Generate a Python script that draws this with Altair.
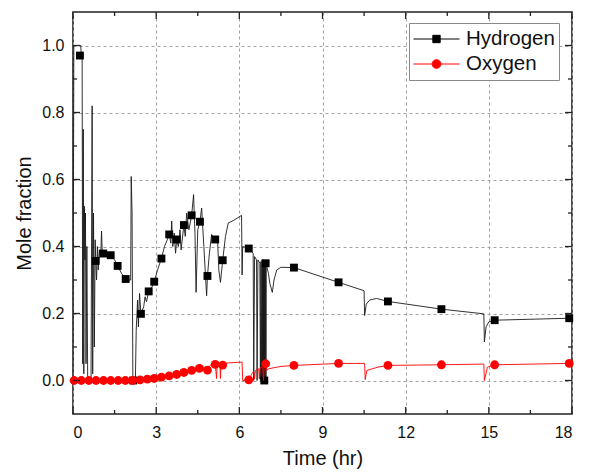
import altair as alt
import pandas as pd

# ---------------- data ----------------
h_time = [0.00, 0.03, 0.10, 0.20, 0.28, 0.30, 0.33, 0.35, 0.37, 0.39, 0.41, 0.43, 0.45, 0.47,
          0.50, 0.53, 0.58, 0.65, 0.69, 0.71, 0.74, 0.77, 0.80, 0.82, 0.85, 0.88, 0.91, 0.95,
          1.00, 1.03, 1.06, 1.09, 1.20, 1.36, 1.50, 1.61, 1.75, 1.90, 2.00, 2.08, 2.10, 2.13,
          2.16, 2.20, 2.25, 2.28, 2.33, 2.36, 2.40, 2.45, 2.55, 2.60, 2.65, 2.73, 2.80, 2.93,
          3.05, 3.19, 3.30, 3.40, 3.47, 3.53, 3.56, 3.60, 3.65, 3.70, 3.74, 3.80, 3.86, 3.90,
          4.00, 4.05, 4.10, 4.18, 4.28, 4.35, 4.40, 4.44, 4.50, 4.58, 4.64, 4.72, 4.82, 4.85,
          4.92, 5.00, 5.13, 5.21, 5.26, 5.32, 5.40, 5.50, 5.60, 5.80, 6.08, 6.10, 6.12, 6.34,
          6.50, 6.52, 6.55, 6.62, 6.64, 6.67, 6.74, 6.76, 6.78, 6.80, 6.82, 6.83, 6.84, 6.85,
          6.86, 6.87, 6.88, 6.89, 6.90, 6.91, 6.92, 6.93, 6.94, 6.95, 6.96, 6.97, 6.99, 7.05,
          7.10, 7.19, 7.25, 7.35, 7.50, 7.97, 9.58, 10.50, 10.52, 10.58, 10.70, 10.95, 11.36,
          13.29, 14.82, 14.84, 14.90, 15.00, 15.21, 17.95]
h_value = [0.00, 1.00, 1.00, 1.00, 1.00, 0.97, 0.97, 0.05, 0.75, 0.02, 0.52, 0.36, 0.50, 0.05,
           0.40, 0.00, 0.00, 0.00, 0.82, 0.02, 0.50, 0.10, 0.42, 0.357, 0.30, 0.40, 0.33, 0.39,
           0.37, 0.446, 0.37, 0.379, 0.376, 0.374, 0.36, 0.342, 0.32, 0.303, 0.30, 0.30, 0.609, 0.50,
           0.00, 0.00, 0.00, 0.15, 0.24, 0.16, 0.26, 0.199, 0.22, 0.25, 0.235, 0.266, 0.27, 0.295,
           0.33, 0.364, 0.40, 0.42, 0.436, 0.41, 0.476, 0.40, 0.44, 0.38, 0.421, 0.40, 0.45, 0.39,
           0.464, 0.43, 0.50, 0.45, 0.493, 0.555, 0.44, 0.263, 0.45, 0.474, 0.515, 0.40, 0.253, 0.312,
           0.38, 0.436, 0.42, 0.43, 0.33, 0.293, 0.359, 0.43, 0.47, 0.478, 0.493, 0.315, 0.40, 0.394,
           0.38, 0.00, 0.37, 0.36, 0.00, 0.36, 0.35, 0.00, 0.355, 0.00, 0.36, 0.00, 0.36, 0.00,
           0.36, 0.00, 0.355, 0.00, 0.35, 0.00, 0.35, 0.00, 0.35, 0.352, 0.00, 0.34, 0.34, 0.32,
           0.29, 0.263, 0.30, 0.33, 0.338, 0.337, 0.293, 0.268, 0.194, 0.228, 0.240, 0.245, 0.236,
           0.213, 0.199, 0.115, 0.16, 0.175, 0.180, 0.186]

h_mark_time = [0.25, 0.82, 1.09, 1.36, 1.61, 1.90, 2.17, 2.45, 2.73, 2.93, 3.19, 3.47, 3.74,
               4.00, 4.28, 4.58, 4.85, 5.13, 5.40, 6.34, 6.90, 6.95, 7.97, 9.58, 11.36, 13.29,
               15.21, 17.90]
h_mark_value = [0.97, 0.357, 0.379, 0.374, 0.342, 0.303, 0.0, 0.199, 0.266, 0.295, 0.364, 0.436,
                0.421, 0.464, 0.493, 0.474, 0.312, 0.421, 0.359, 0.394, 0.0, 0.350, 0.337, 0.293,
                0.236, 0.213, 0.180, 0.186]

o_time = [0.00, 2.20, 2.45, 2.73, 2.93, 3.19, 3.47, 3.74, 4.00, 4.28, 4.58, 4.70, 4.85, 4.95,
          5.05, 5.13, 5.18, 5.20, 5.30, 5.32, 5.34, 5.40, 5.50, 6.10, 6.12, 6.34, 6.45, 6.52,
          6.55, 6.58, 6.70, 6.72, 6.75, 6.85, 6.87, 6.90, 6.95, 7.00, 7.05, 7.50, 7.97, 9.58,
          10.52, 10.54, 10.60, 11.00, 11.36, 13.29, 14.82, 14.84, 14.95, 15.21, 17.95]
o_value = [0.00, 0.00, 0.002, 0.004, 0.006, 0.010, 0.014, 0.018, 0.024, 0.030, 0.036, 0.040,
           0.031, 0.045, 0.050, 0.048, 0.006, 0.048, 0.046, 0.006, 0.046, 0.046, 0.052, 0.055,
           0.00, 0.002, 0.020, 0.028, 0.005, 0.030, 0.035, 0.005, 0.038, 0.040, 0.00, 0.045,
           0.050, 0.030, 0.035, 0.042, 0.045, 0.051, 0.051, 0.003, 0.030, 0.040, 0.045, 0.047,
           0.049, 0.00, 0.040, 0.047, 0.051]

o_mark_time = [0.04, 0.30, 0.57, 0.83, 1.10, 1.36, 1.63, 1.89, 2.15, 2.42, 2.68, 2.93, 3.19,
               3.47, 3.74, 4.00, 4.28, 4.56, 4.85, 5.13, 5.40, 6.34, 6.95, 7.97, 9.58, 11.36,
               13.29, 15.21, 17.90]
o_mark_value = [0.0, 0.0, 0.0, 0.0, 0.0, 0.0, 0.0, 0.0, 0.0, 0.002, 0.004, 0.006, 0.010,
                0.014, 0.018, 0.024, 0.030, 0.036, 0.031, 0.048, 0.046, 0.002, 0.050, 0.045,
                0.051, 0.045, 0.047, 0.047, 0.051]

series_names = ["Hydrogen", "Oxygen"]
series_colors = ["#000000", "#ff0000"]

x_major = [0, 3, 6, 9, 12, 15, 18]
x_minor = [1.5, 4.5, 7.5, 10.5, 13.5, 16.5]
y_major = [0.0, 0.2, 0.4, 0.6, 0.8, 1.0]
y_minor = [0.1, 0.3, 0.5, 0.7, 0.9]

# ---------------- chart ----------------
W, H = 499, 402
FONT = "Liberation Sans"

xs = alt.Scale(domain=[0, 18], nice=False, zero=False)
ys = alt.Scale(domain=[-0.1, 1.1], nice=False, zero=False)

x_axis = alt.Axis(values=x_major, title="Time (hr)", ticks=False, domain=False,
                  labelFontSize=16, titleFontSize=20, titleFontWeight="normal",
                  labelPadding=10, titlePadding=8, grid=True, gridDash=[3, 3],
                  gridColor="#a0a0a0", gridWidth=1, labelColor="#111", titleColor="#111",
                  labelFont=FONT, titleFont=FONT)
y_axis = alt.Axis(values=y_major, format=".1f", title="Mole fraction", ticks=False, domain=False,
                  labelFontSize=16, titleFontSize=20, titleFontWeight="normal",
                  labelPadding=9, titlePadding=7, grid=True, gridDash=[3, 3],
                  gridColor="#a0a0a0", gridWidth=1, labelColor="#111", titleColor="#111",
                  labelFont=FONT, titleFont=FONT)

X = alt.X("t:Q", scale=xs, axis=x_axis)
Y = alt.Y("v:Q", scale=ys, axis=y_axis)

h_line_df = pd.DataFrame({"t": h_time, "v": h_value})
h_mark_df = pd.DataFrame({"t": h_mark_time, "v": h_mark_value})
o_line_df = pd.DataFrame({"t": o_time, "v": o_value})
o_mark_df = pd.DataFrame({"t": o_mark_time, "v": o_mark_value})

h_line = alt.Chart(h_line_df).mark_line(color="#1a1a1a", strokeWidth=0.9, clip=True).encode(x=X, y=Y)
h_pts = alt.Chart(h_mark_df).mark_square(color="#000000", size=62, opacity=1).encode(x=X, y=Y)
o_line = alt.Chart(o_line_df).mark_line(color="#ff0000", strokeWidth=0.9, clip=True).encode(x=X, y=Y)
o_pts = alt.Chart(o_mark_df).mark_circle(color="#ff0000", size=78, opacity=1).encode(x=X, y=Y)

# legend (line + marker symbols), drawn from the series list through scales
legend_df = pd.DataFrame({"series": series_names})
sq_path = "M-1,0L1,0M-0.16,-0.16L0.16,-0.16L0.16,0.16L-0.16,0.16Z"
ci_path = ("M-0.19,0A0.19,0.19,0,1,1,0.19,0A0.19,0.19,0,1,1,-0.19,0Z"
           "M-1,0L1,0")
leg = alt.Legend(title=None, orient="none", legendX=336, legendY=11,
                 labelFontSize=20.5, labelFont=FONT, labelColor="#111",
                 symbolSize=2116, symbolStrokeWidth=1, clipHeight=24, rowPadding=1,
                 labelOffset=6, padding=4, strokeColor="#888888", fillColor="white",
                 symbolOpacity=1)
legend_layer = alt.Chart(legend_df).transform_filter("false").mark_point(
    filled=True, strokeWidth=1, opacity=1).encode(
    color=alt.Color("series:N", scale=alt.Scale(domain=series_names, range=series_colors), legend=leg),
    stroke=alt.Stroke("series:N", scale=alt.Scale(domain=series_names, range=series_colors), legend=leg),
    shape=alt.Shape("series:N", scale=alt.Scale(domain=series_names, range=[sq_path, ci_path]), legend=leg),
)

# inward tick marks on all four sides
xmaj_df = pd.DataFrame({"t": x_major})
xmin_df = pd.DataFrame({"t": x_minor})
ymaj_df = pd.DataFrame({"v": y_major})
ymin_df = pd.DataFrame({"v": y_minor})
tick_col = "#222222"

def xticks(df, length):
    bot = alt.Chart(df).mark_rule(color=tick_col, strokeWidth=1.3).encode(
        x=X, y=alt.value(H), y2=alt.value(H - length))
    top = alt.Chart(df).mark_rule(color=tick_col, strokeWidth=1.3).encode(
        x=X, y=alt.value(0), y2=alt.value(length))
    return [bot, top]

def yticks(df, length):
    left = alt.Chart(df).mark_rule(color=tick_col, strokeWidth=1.3).encode(
        y=Y, x=alt.value(0), x2=alt.value(length))
    right = alt.Chart(df).mark_rule(color=tick_col, strokeWidth=1.3).encode(
        y=Y, x=alt.value(W - length), x2=alt.value(W))
    return [left, right]

ticks = xticks(xmaj_df, 7) + xticks(xmin_df, 4) + yticks(ymaj_df, 7) + yticks(ymin_df, 4)

chart = alt.layer(
    h_line, h_pts, o_line, o_pts, legend_layer, *ticks
).resolve_scale(x="shared", y="shared").properties(
    width=W, height=H,
    autosize=alt.AutoSizeParams(type="none"),
    padding={"left": 73, "top": 12, "right": 22, "bottom": 62},
    background="white",
).configure_view(stroke="#222222", strokeWidth=1.6).configure_axis(
    labelFont=FONT, titleFont=FONT
).configure_legend(labelFont=FONT)

chart.save("out.html", embed_options={"renderer": "svg", "actions": False})
